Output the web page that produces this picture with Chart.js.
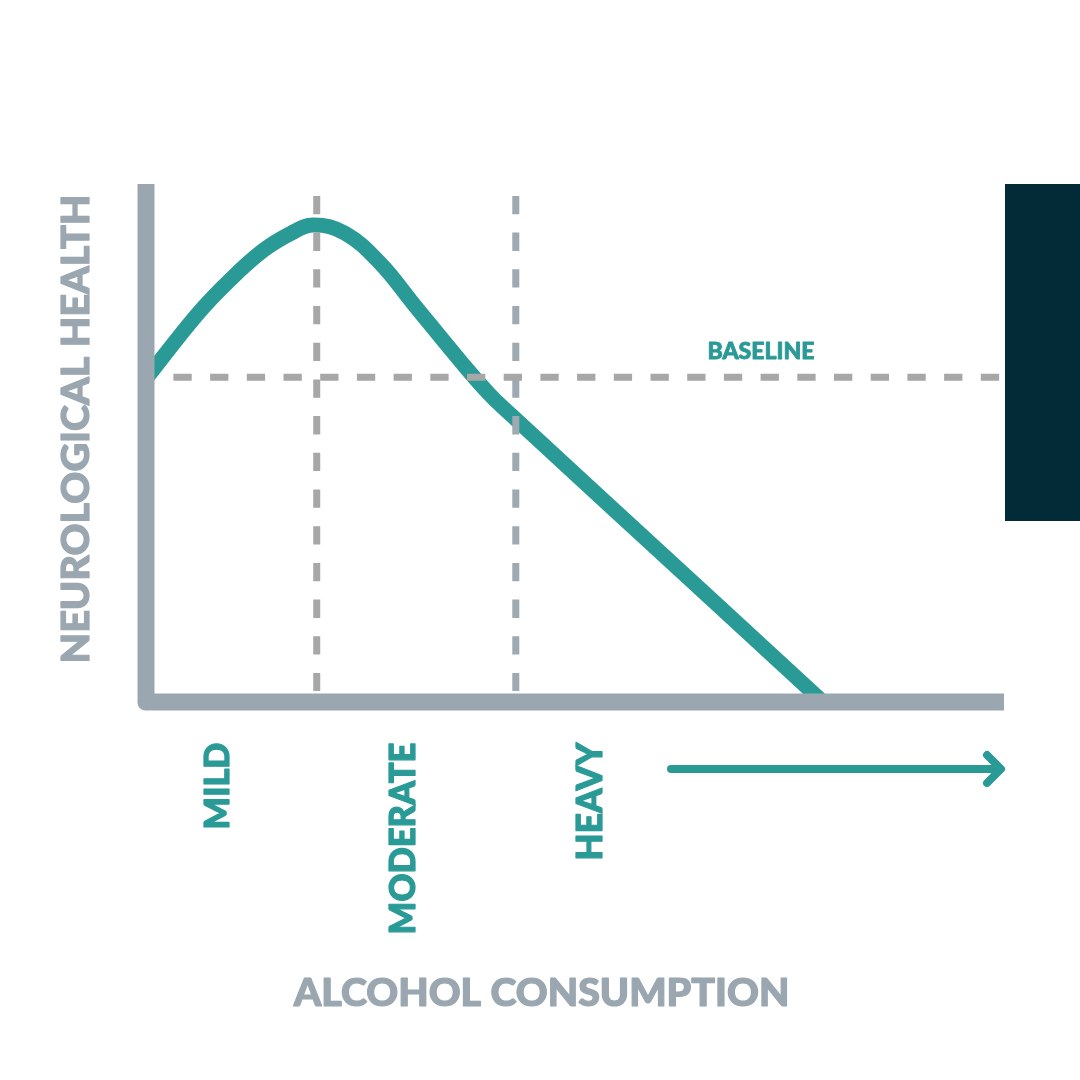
<!DOCTYPE html>
<html>
<head>
<meta charset="utf-8">
<script src="https://cdn.jsdelivr.net/npm/chart.js@4.4.1/dist/chart.umd.min.js"></script>
<style>
  html, body { margin: 0; padding: 0; background: #ffffff; }
  canvas { display: block; }
</style>
</head>
<body>
<canvas id="canvas" width="1080" height="1080"></canvas>
<script>
// conceptual curve: consumption (0-100) vs neurological health (0-100)
var consumption = [0, 5.9, 9.8, 13.6, 16.8, 19.5, 23.2, 27.3, 31.1, 36.9, 40.1, 43.1, 64.6, 78.9];
var health = [62.4, 74.7, 81.5, 87.1, 90.4, 92.1, 90.5, 84.7, 77.0, 65.3, 59.3, 54.6, 21.8, 0];
var baselineLevel = 62.7;
var thresholds = [19.9, 43.1];
var levelLabels = ['MILD', 'MODERATE', 'HEAVY'];
var xTitle = 'ALCOHOL CONSUMPTION';
var yTitle = 'NEUROLOGICAL HEALTH';
var baselineLabel = 'BASELINE';

var TEAL = '#2a9a97';
var AXIS_GREY = '#9ba7b0';
var DASH_GREY = '#a7a7a7';
var FONT = '"Lato", "Open Sans", "DejaVu Sans", sans-serif';

function toPoints(xs, ys){
	var pts = [];
	for(var i = 0; i < xs.length; i++){
		pts.push({x: xs[i], y: ys[i]});
	}
	return pts;
}

// draws text so its caps are capH tall and it spans exactly `width`
function fitText(ctx, text, cx, cy, capH, width, color, rotate, weight){
	var size = capH / 0.72;
	ctx.save();
	ctx.font = '900 ' + size + 'px ' + FONT;
	ctx.fillStyle = color;
	ctx.strokeStyle = color;
	ctx.lineJoin = 'round';
	ctx.textAlign = 'center';
	ctx.textBaseline = 'alphabetic';
	var w = ctx.measureText(text).width;
	ctx.translate(cx, cy);
	if (rotate) ctx.rotate(-Math.PI / 2);
	ctx.scale(width / (w + weight), 1);
	var y0 = capH / 2 - weight / 2;
	ctx.fillText(text, 0, y0);
	ctx.lineWidth = weight;
	ctx.strokeText(text, 0, y0);
	ctx.restore();
}

var decorations = {
	id: 'decorations',
	afterDatasetsDraw: function(chart){
		var ctx = chart.ctx;
		var a = chart.chartArea;
		// axes with rounded corner
		var half = 8.5;
		ctx.save();
		ctx.fillStyle = AXIS_GREY;
		ctx.beginPath();
		ctx.moveTo(a.left - half, a.top);
		ctx.lineTo(a.left + half, a.top);
		ctx.lineTo(a.left + half, a.bottom - half);
		ctx.lineTo(a.right, a.bottom - half);
		ctx.lineTo(a.right, a.bottom + half);
		ctx.lineTo(a.left + 2, a.bottom + half);
		ctx.arcTo(a.left - half, a.bottom + half, a.left - half, a.bottom, 8);
		ctx.closePath();
		ctx.fill();

		// dark side block
		ctx.fillStyle = '#022b37';
		ctx.fillRect(1005, 184, 75, 337);

		// arrow along the consumption direction
		ctx.strokeStyle = TEAL;
		ctx.lineWidth = 8;
		ctx.lineCap = 'round';
		ctx.lineJoin = 'round';
		ctx.beginPath();
		ctx.moveTo(671, 769);
		ctx.lineTo(1000, 769);
		ctx.moveTo(987, 755);
		ctx.lineTo(1001, 769);
		ctx.lineTo(987, 783);
		ctx.stroke();
		ctx.restore();

		// texts
		fitText(ctx, yTitle, 76, 429, 28, 470, AXIS_GREY, true, 1.2);
		fitText(ctx, xTitle, 541.5, 993.5, 27, 497, AXIS_GREY, false, 1.2);
		fitText(ctx, baselineLabel, 761, 351, 16, 108, TEAL, false, 0.8);
		fitText(ctx, levelLabels[0], 217.5, 786, 25, 88, TEAL, true, 1.2);
		fitText(ctx, levelLabels[1], 403, 838.5, 26, 193, TEAL, true, 1.2);
		fitText(ctx, levelLabels[2], 590, 801.5, 26, 119, TEAL, true, 1.2);
	}
};

var dashStyle = {
	borderWidth: 7,
	borderDash: [18.3, 18.4],
	borderCapStyle: 'butt',
	pointRadius: 0,
	tension: 0,
	fill: false,
	order: 0
};

var config = {
	type: 'line',
	data: {
		datasets: [
			Object.assign({
				data: [{x: 1.05, y: baselineLevel}, {x: 100, y: baselineLevel}],
				borderColor: DASH_GREY,
				borderDashOffset: 18.3
			}, dashStyle),
			Object.assign({
				data: [{x: thresholds[0], y: 97.7}, {x: thresholds[0], y: 2.1}],
				borderColor: DASH_GREY
			}, dashStyle),
			Object.assign({
				data: [{x: thresholds[1], y: 97.7}, {x: thresholds[1], y: 2.1}],
				borderColor: '#9ea9b2'
			}, dashStyle),
			{
				data: toPoints(consumption, health),
				borderColor: TEAL,
				borderWidth: 15,
				tension: 0.4,
				pointRadius: 0,
				fill: false,
				clip: false,
				order: 1
			}
		]
	},
	options: {
		responsive: false,
		animation: false,
		devicePixelRatio: 1,
		layout: {padding: {left: 146, right: 76, top: 184, bottom: 378}},
		scales: {
			x: {type: 'linear', min: 0, max: 100, display: false},
			y: {type: 'linear', min: 0, max: 100, display: false}
		},
		plugins: {
			legend: {display: false},
			tooltip: {enabled: false}
		}
	},
	plugins: [decorations]
};

var ctx = document.getElementById('canvas').getContext('2d');
window.myLine = new Chart(ctx, config);
</script>
</body>
</html>
